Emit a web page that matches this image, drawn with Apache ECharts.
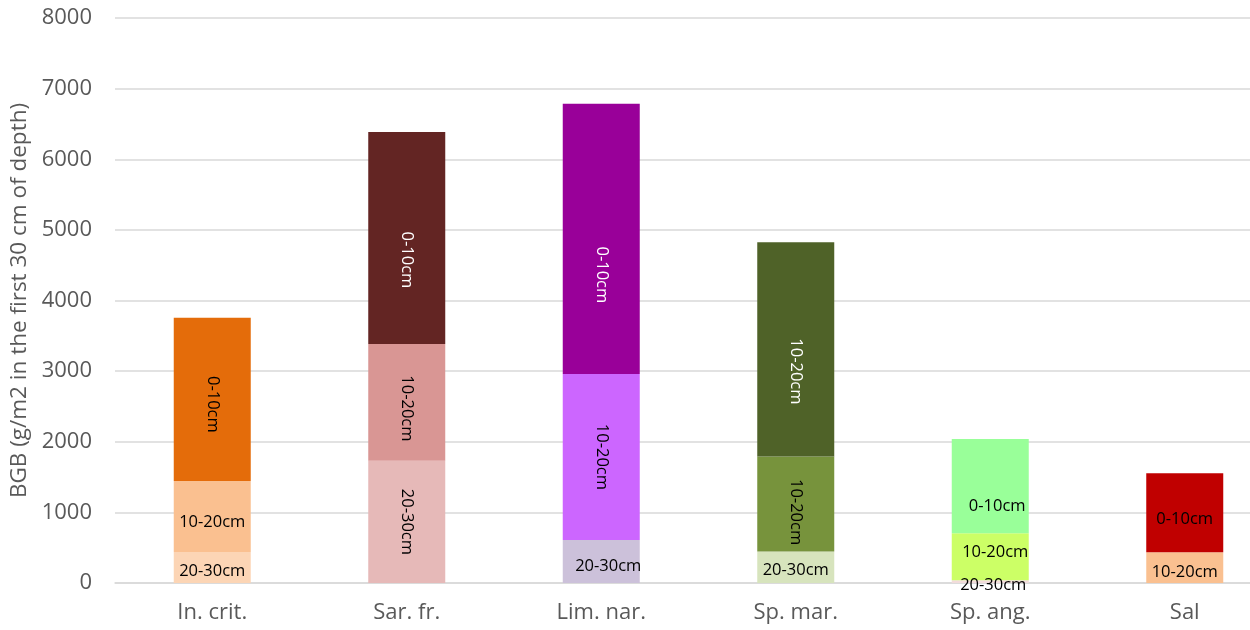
<!DOCTYPE html>
<html>
<head>
<meta charset="utf-8">
<script src="https://cdn.jsdelivr.net/npm/echarts@6/dist/echarts.min.js"></script>
<style>
  html, body { margin: 0; padding: 0; background: #ffffff; }
  #chart { width: 1250px; height: 630px; }
</style>
</head>
<body>
<div id="chart"></div>
<script>
// Below-ground biomass per species, split by soil depth layer (g/m2)
const categories = ['In. crit.', 'Sar. fr.', 'Lim. nar.', 'Sp. mar.', 'Sp. ang.', 'Sal'];
const tickLabels = ['0', '1000', '2000', '3000', '4000', '5000', '6000', '7000', '8000'];

// Stack order: deepest layer at the bottom
const layerBottom = [440, 1730, 610, 445, 40, null];
const layerMiddle = [1005, 1655, 2350, 1345, 665, 435];
const layerTop = [2310, 3000, 3825, 3035, 1335, 1120];

const textBottom = ['20-30cm', '20-30cm', '20-30cm', '20-30cm', '20-30cm', ''];
const textMiddle = ['10-20cm', '10-20cm', '10-20cm', '10-20cm', '10-20cm', '10-20cm'];
const textTop = ['0-10cm', '0-10cm', '0-10cm', '10-20cm', '0-10cm', '0-10cm'];

// Per-segment look: fill, label colour, label rotation, label nudge.
// For labels turned by -90 degrees the nudge is in the text's own frame,
// so [d, 0] moves the label down the bar by d pixels.
const styleBottom = {
  fill: ['#FCD5B5', '#E6B9B8', '#CCC1DA', '#D7E4BD', '#F2DCDB', '#FFFFFF'],
  ink: ['#000', '#000', '#000', '#000', '#000', '#000'],
  rotate: [0, -90, 0, 0, 0, 0],
  offset: [[0, 4], [0, 0], [7, 5], [0, 3], [3, 4], [0, 0]]
};
const styleMiddle = {
  fill: ['#FAC090', '#D99694', '#CC66FF', '#77933C', '#CCFF66', '#FAC090'],
  ink: ['#000', '#000', '#000', '#000', '#000', '#000'],
  rotate: [0, -90, -90, -90, 0, 0],
  offset: [[0, 6], [6, 0], [0, 0], [8, 0], [5, -4], [0, 5]]
};
const styleTop = {
  fill: ['#E46C0A', '#632523', '#990099', '#4F6228', '#99FF99', '#C00000'],
  ink: ['#000', '#fff', '#fff', '#fff', '#000', '#000'],
  rotate: [-90, -90, -90, -90, 0, 0],
  offset: [[5, 0], [22, 0], [36, 0], [22, 0], [7, 20], [0, 7]]
};

const FONT = '"Open Sans", "Noto Sans", sans-serif';

function buildItems(values, texts, style) {
  return values.map((v, i) => ({
    value: v,
    itemStyle: { color: style.fill[i] },
    label: {
      show: v !== null && texts[i] !== '',
      formatter: texts[i],
      color: style.ink[i],
      rotate: style.rotate[i],
      offset: style.offset[i]
    }
  }));
}

function layerSeries(name, values, texts, style) {
  return {
    name: name,
    type: 'bar',
    stack: 'depth',
    barWidth: 77,
    data: buildItems(values, texts, style),
    label: {
      show: true,
      position: 'inside',
      fontFamily: FONT,
      fontSize: 16.5
    },
    emphasis: { disabled: true }
  };
}

const chart = echarts.init(document.getElementById('chart'), null, { renderer: 'canvas' });
chart.setOption({
  animation: false,
  backgroundColor: '#ffffff',
  // the last category band runs past the right edge of the canvas
  grid: { left: 115, width: 1167, top: 18, bottom: 47, containLabel: false, outerBoundsMode: 'none' },
  xAxis: {
    type: 'category',
    data: categories,
    axisLine: { lineStyle: { color: '#D9D9D9', width: 1.5 } },
    axisTick: { show: false },
    axisLabel: { color: '#595959', fontFamily: FONT, fontSize: 22, margin: 19 }
  },
  yAxis: {
    type: 'value',
    min: 0,
    max: 8000,
    interval: 1000,
    name: 'BGB (g/m2 in the first 30 cm of depth)',
    nameLocation: 'middle',
    nameGap: 81,
    nameTextStyle: { color: '#595959', fontFamily: FONT, fontSize: 22.5 },
    axisLine: { show: false },
    axisTick: { show: false },
    axisLabel: {
      color: '#595959',
      fontFamily: FONT,
      fontSize: 22,
      margin: 23,
      formatter: (v) => tickLabels[Math.round(v / 1000)]
    },
    splitLine: { lineStyle: { color: '#D9D9D9', width: 1.5 } }
  },
  series: [
    layerSeries('20-30cm', layerBottom, textBottom, styleBottom),
    layerSeries('10-20cm', layerMiddle, textMiddle, styleMiddle),
    layerSeries('0-10cm', layerTop, textTop, styleTop)
  ]
});
</script>
</body>
</html>
